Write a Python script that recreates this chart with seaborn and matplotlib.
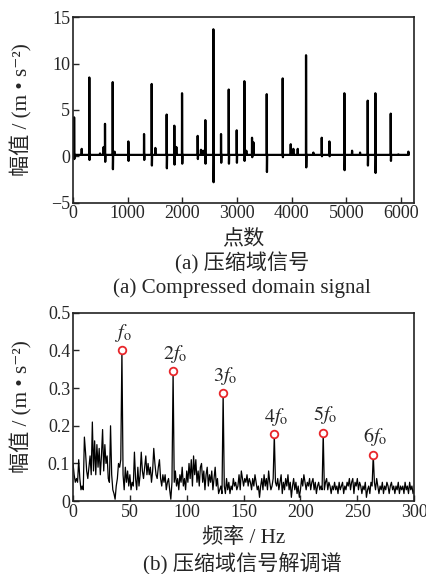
import numpy as np
import pandas as pd
import matplotlib
matplotlib.use('Agg')
import matplotlib.pyplot as plt
import seaborn as sns

# (a) compressed domain signal: spikes (sample index, peak, trough)
spike_pos = [20, 298, 585, 726, 1012, 1299, 1439, 1713, 1853, 1994, 2280, 2420,
             2567, 2707, 2848, 2994, 3134, 3274, 3543, 3835, 4262, 4549, 4689,
             4963, 5390, 5530, 5811]
spike_peak = [4.2, 8.5, 3.5, 8.0, 1.6, 2.4, 7.8, 4.5, 3.3, 6.8, 2.2, 3.9,
              13.7, 2.4, 7.2, 2.8, 8.1, 2.0, 6.7, 8.4, 10.9, 2.0, 1.6,
              6.8, 6.0, 6.8, 4.6]
spike_trough = [-0.3, -0.4, -0.6, -1.4, -0.5, -0.4, -1.0, -1.3, -0.9, -0.8, -0.3, -0.8,
                -2.8, -0.7, -0.8, -0.7, -0.5, -0.1, -1.7, -0.1, -1.2, 0.0, 0.0,
                -1.5, -1.0, -1.8, -0.5]
bump_pos = [159, 494, 560, 760, 1506, 1890, 2340, 2380, 3170, 3300, 3982, 4030,
            4110, 4396, 5104, 5250, 5951, 6134]
bump_height = [0.8, 0.3, 1.0, 0.5, 0.9, 1.0, 0.7, 0.6, 0.6, 1.5, 1.3, 0.8,
               0.8, 0.4, 0.6, 0.4, 0.2, 0.5]
signal_end = 6140
baseline = 0.15

# (b) demodulation spectrum, 0..300 Hz in 1 Hz steps
freq = list(range(0, 301))
amp = [0.10, 0.07, 0.05, 0.06, 0.05, 0.11, 0.06, 0.03, 0.04, 0.03,
       0.17, 0.13, 0.08, 0.06, 0.09, 0.12, 0.07, 0.21, 0.08, 0.16,
       0.07, 0.15, 0.09, 0.14, 0.07, 0.12, 0.19, 0.08, 0.15, 0.10,
       0.12, 0.06, 0.05, 0.20, 0.07, 0.03, 0.02, 0.005, 0.04, 0.06,
       0.10, 0.09, 0.11, 0.40, 0.07, 0.03, 0.09, 0.05, 0.08, 0.04,
       0.07, 0.03, 0.05, 0.04, 0.13, 0.06, 0.03, 0.09, 0.04, 0.07,
       0.13, 0.08, 0.06, 0.09, 0.12, 0.07, 0.10, 0.07, 0.09, 0.05,
       0.08, 0.14, 0.10, 0.07, 0.06, 0.09, 0.11, 0.06, 0.04, 0.07,
       0.05, 0.07, 0.03, 0.05, 0.06, 0.03, 0.005, 0.05, 0.345, 0.05,
       0.08, 0.04, 0.06, 0.03, 0.07, 0.05, 0.09, 0.04, 0.06, 0.03,
       0.08, 0.05, 0.10, 0.06, 0.11, 0.04, 0.12, 0.07, 0.11, 0.05,
       0.08, 0.04, 0.09, 0.10, 0.05, 0.08, 0.03, 0.07, 0.09, 0.04,
       0.07, 0.05, 0.08, 0.03, 0.06, 0.09, 0.04, 0.06, 0.02, 0.03,
       0.04, 0.02, 0.287, 0.04, 0.02, 0.06, 0.03, 0.05, 0.02, 0.04,
       0.03, 0.06, 0.04, 0.05, 0.03, 0.04, 0.07, 0.03, 0.08, 0.06,
       0.04, 0.06, 0.05, 0.07, 0.04, 0.06, 0.05, 0.03, 0.06, 0.04,
       0.07, 0.05, 0.03, 0.04, 0.01, 0.04, 0.06, 0.03, 0.07, 0.04,
       0.06, 0.03, 0.08, 0.05, 0.03, 0.04, 0.06, 0.177, 0.05, 0.04,
       0.06, 0.03, 0.05, 0.07, 0.02, 0.05, 0.03, 0.06, 0.04, 0.07,
       0.03, 0.05, 0.01, 0.04, 0.06, 0.03, 0.05, 0.02, 0.04, 0.01,
       0.03, 0.06, 0.04, 0.07, 0.05, 0.03, 0.05, 0.04, 0.06, 0.03,
       0.05, 0.06, 0.03, 0.05, 0.02, 0.04, 0.05, 0.03, 0.04, 0.03,
       0.182, 0.03, 0.05, 0.06, 0.03, 0.05, 0.04, 0.02, 0.04, 0.03,
       0.05, 0.03, 0.04, 0.02, 0.05, 0.03, 0.04, 0.05, 0.02, 0.04,
       0.03, 0.05, 0.04, 0.06, 0.03, 0.05, 0.06, 0.02, 0.05, 0.04,
       0.06, 0.03, 0.05, 0.04, 0.02, 0.04, 0.03, 0.05, 0.01, 0.03,
       0.04, 0.02, 0.05, 0.04, 0.123, 0.05, 0.03, 0.06, 0.04, 0.02,
       0.04, 0.03, 0.05, 0.02, 0.04, 0.03, 0.05, 0.04, 0.02, 0.04,
       0.05, 0.03, 0.04, 0.02, 0.04, 0.03, 0.05, 0.02, 0.04, 0.03,
       0.04, 0.02, 0.05, 0.03, 0.04, 0.02, 0.05, 0.03, 0.04, 0.02,
       0.03]
harm_freq = [43, 88, 132, 177, 220, 264]
harm_amp = [0.40, 0.345, 0.287, 0.177, 0.182, 0.123]
harm_label = [r'$\mathit{f}_{\mathrm{o}}$', r'$2\mathit{f}_{\mathrm{o}}$', r'$3\mathit{f}_{\mathrm{o}}$',
              r'$4\mathit{f}_{\mathrm{o}}$', r'$5\mathit{f}_{\mathrm{o}}$', r'$6\mathit{f}_{\mathrm{o}}$']

sns.set_style('ticks')
plt.rcParams['font.family'] = ['Liberation Serif', 'Noto Sans CJK SC', 'DejaVu Sans']
plt.rcParams['mathtext.fontset'] = 'stix'
plt.rcParams['axes.unicode_minus'] = True
fs = 13
lfs = 15.2
ylab = '幅值 / (m • s⁻²)'

# build the time series points from the spike table
events = sorted([(p, 'spike', h, t) for p, h, t in zip(spike_pos, spike_peak, spike_trough)] +
                [(p, 'bump', h, 0) for p, h in zip(bump_pos, bump_height)])
xs, ys = [0], [baseline]
for p, kind, h, t in events:
    if kind == 'spike':
        xs += [p - 2, p, p + 4, p + 8]
        ys += [baseline, h, t, baseline]
    else:
        xs += [p - 4, p, p + 4]
        ys += [baseline, h, baseline]
xs.append(signal_end)
ys.append(baseline)
sig = pd.DataFrame({'n': xs, 'amp': ys})
spec = pd.DataFrame({'f': freq, 'amp': amp})
harm = pd.DataFrame({'f': harm_freq, 'amp': harm_amp})

fig = plt.figure(figsize=(4.27, 5.74), dpi=100)
ax1 = fig.add_axes([0.171, 0.647, 0.799, 0.323])
ax2 = fig.add_axes([0.171, 0.127, 0.799, 0.328])

sns.lineplot(data=sig, x='n', y='amp', ax=ax1, color='black', linewidth=1.6,
             sort=False, estimator=None)
ax1.set_xlim(0, 6240)
ax1.set_ylim(-5, 15)
ax1.set_xticks([0, 1000, 2000, 3000, 4000, 5000, 6000])
ax1.set_yticks([-5, 0, 5, 10, 15])
ax1.set_xlabel('')
ax1.set_ylabel(ylab, fontsize=lfs)
ax1.yaxis.set_label_coords(-0.12, 0.5)

sns.lineplot(data=spec, x='f', y='amp', ax=ax2, color='black', linewidth=0.9,
             estimator=None)
sns.scatterplot(data=harm, x='f', y='amp', ax=ax2, s=30, facecolor='white',
                edgecolor='#e8262a', linewidth=1.3, zorder=5)
for f, a, lab in zip(harm_freq, harm_amp, harm_label):
    ax2.text(f + 1.5, a + 0.046, lab, fontsize=14.5, ha='center', va='center')
ax2.set_xlim(0, 300)
ax2.set_ylim(0, 0.5)
ax2.set_xticks([0, 50, 100, 150, 200, 250, 300])
ax2.set_yticks([0, 0.1, 0.2, 0.3, 0.4, 0.5])
ax2.set_yticklabels(['0', '0.1', '0.2', '0.3', '0.4', '0.5'])
ax2.set_xlabel('')
ax2.set_ylabel(ylab, fontsize=lfs)
ax2.yaxis.set_label_coords(-0.12, 0.5)

for ax in (ax1, ax2):
    ax.tick_params(direction='in', length=4, width=1, labelsize=fs, pad=2)
    for sp in ax.spines.values():
        sp.set_visible(True)
        sp.set_linewidth(1.2)
        sp.set_color('#222222')

fig.text(0.570, 0.582, '点数', ha='center', va='center', fontsize=lfs)
fig.text(0.567, 0.542, '(a) 压缩域信号', ha='center', va='center', fontsize=lfs)
fig.text(0.567, 0.498, '(a) Compressed domain signal', ha='center', va='center', fontsize=lfs)
fig.text(0.570, 0.063, '频率 / Hz', ha='center', va='center', fontsize=lfs)
fig.text(0.567, 0.017, '(b) 压缩域信号解调谱', ha='center', va='center', fontsize=lfs)

fig.savefig('out.png', dpi=100, facecolor='white')
